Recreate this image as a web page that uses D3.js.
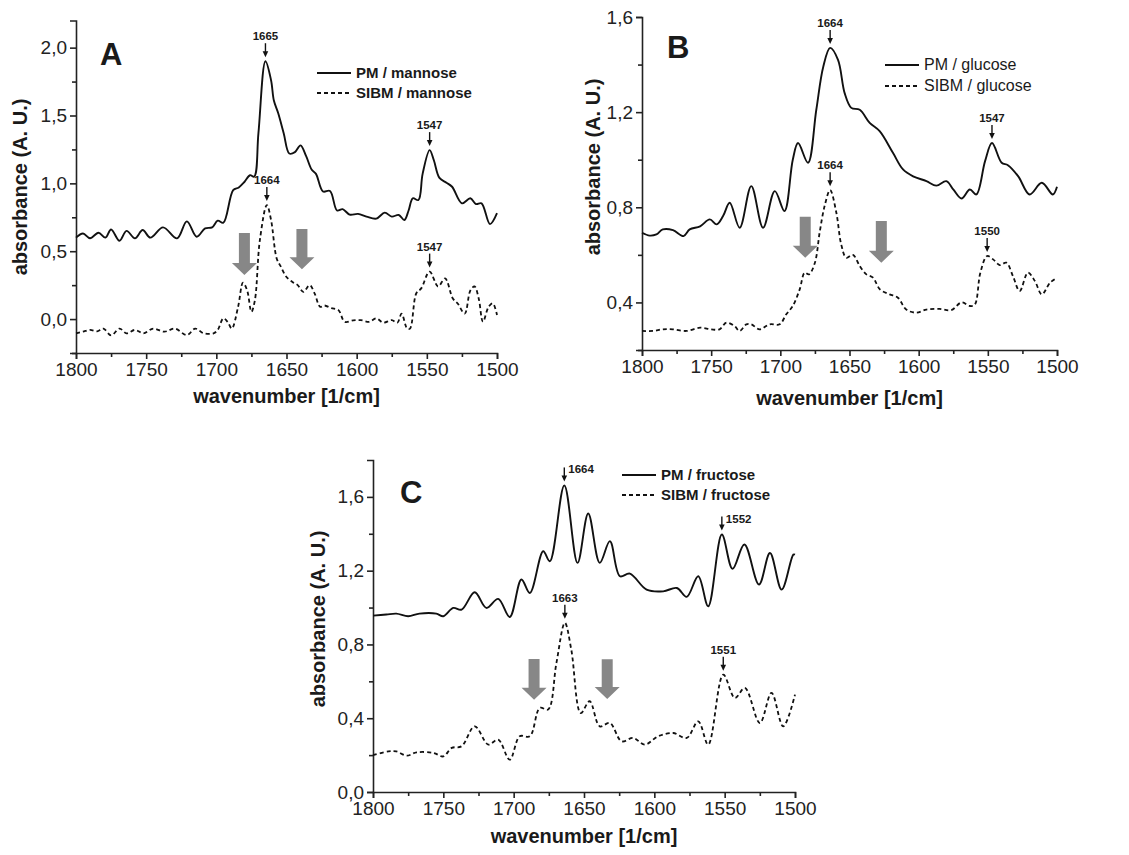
<!DOCTYPE html>
<html lang="en">
<head>
  <meta charset="utf-8">
  <title>FTIR spectra – PM / SIBM</title>
  <script src="https://d3js.org/d3.v7.min.js"></script>
  <style>
    body { margin: 0; background: #fff; }
    svg text { font-family: "Liberation Sans", Arial, sans-serif; fill: #1a1a1a; }
  </style>
</head>
<body>
<svg width="1129" height="855"></svg>
<script>
// ---- data: [wavenumber (1/cm), absorbance (A. U.)] ----
const pmMannose = [
  [1800,0.60],[1795,0.63],[1790,0.595],[1784,0.636],[1779,0.60],[1775,0.66],[1769,0.577],
  [1764,0.65],[1758,0.595],[1752.5,0.656],[1747,0.60],[1738,0.676],[1728,0.595],[1721,0.72],
  [1714,0.607],[1708,0.668],[1703,0.676],[1699,0.725],[1695,0.71],[1688,0.95],[1684,0.97],
  [1680,1.01],[1676,1.06],[1673,1.05],[1670,1.37],[1665,1.90],[1661,1.76],[1659,1.61],
  [1656,1.52],[1652,1.37],[1648,1.22],[1644,1.23],[1640,1.28],[1636,1.20],[1632,1.10],
  [1629,1.07],[1624,0.94],[1619,0.944],[1614,0.80],[1610,0.81],[1605,0.77],[1599,0.775],
  [1593,0.755],[1586,0.74],[1580,0.784],[1575,0.755],[1570,0.767],[1566,0.73],[1563,0.80],
  [1560,0.89],[1556,0.877],[1553,1.07],[1548,1.245],[1545,1.17],[1541,1.04],[1536,1.005],
  [1532,0.975],[1525,0.853],[1519,0.89],[1515,0.848],[1511,0.853],[1505,0.70],[1500,0.78]
];
const sibmMannose = [
  [1800,-0.105],[1795,-0.093],[1790,-0.08],[1785,-0.09],[1780.5,-0.07],[1775,-0.12],
  [1769,-0.07],[1764,-0.105],[1758,-0.08],[1752,-0.105],[1745,-0.07],[1737,-0.093],
  [1729.5,-0.07],[1721,-0.118],[1715,-0.07],[1709,-0.105],[1702,-0.105],[1699,-0.08],
  [1695,0.005],[1692,-0.02],[1689,-0.07],[1684.5,0.09],[1681,0.268],[1678,0.21],[1675,0.054],
  [1672.5,0.14],[1669,0.58],[1664,0.84],[1661,0.73],[1657,0.447],[1654,0.386],[1650,0.31],
  [1645,0.268],[1642,0.25],[1638,0.20],[1633.5,0.25],[1630,0.19],[1626,0.09],[1623,0.10],
  [1618,0.08],[1613,0.066],[1608.5,-0.02],[1602.5,-0.01],[1597,-0.008],[1591,-0.02],
  [1586,0.005],[1581,-0.027],[1575,-0.008],[1571,-0.027],[1568,0.04],[1564,-0.07],
  [1562,-0.07],[1557.5,0.19],[1554,0.226],[1548,0.35],[1542,0.24],[1537,0.30],[1531.5,0.152],
  [1528,0.115],[1523,0.04],[1519,0.21],[1516,0.24],[1513,0.15],[1510,-0.02],[1506,0.09],
  [1503,0.115],[1500,0.03]
];
const pmGlucose = [
  [1800,0.693],[1794.5,0.681],[1789.6,0.686],[1785,0.707],[1777.6,0.704],[1770,0.679],
  [1765.5,0.707],[1758,0.72],[1751,0.749],[1746,0.728],[1741.4,0.763],[1736.6,0.819],
  [1729.4,0.714],[1721,0.889],[1712.5,0.714],[1704,0.868],[1697,0.784],[1691,1.0],
  [1687.2,1.07],[1680,0.987],[1674,1.21],[1669,1.39],[1664,1.47],[1658.3,1.42],[1653.5,1.28],
  [1648.7,1.218],[1642.6,1.21],[1635.4,1.155],[1628.2,1.12],[1618.6,1.029],[1611.3,0.959],
  [1604,0.93],[1594.4,0.91],[1587.2,0.891],[1580,0.91],[1575,0.875],[1569,0.837],[1563,0.875],
  [1558.3,0.854],[1552,0.994],[1547,1.07],[1540,0.987],[1535.5,0.977],[1528,0.93],
  [1519.8,0.854],[1511,0.903],[1503,0.854],[1500,0.886]
];
const sibmGlucose = [
  [1800,0.28],[1792,0.28],[1785,0.287],[1777.6,0.287],[1768,0.28],[1758,0.294],[1750,0.287],
  [1744,0.287],[1739,0.315],[1733,0.30],[1729.4,0.28],[1724.6,0.308],[1721,0.308],
  [1715,0.287],[1707.7,0.308],[1700.5,0.308],[1695.7,0.35],[1691,0.385],[1686,0.455],
  [1682.4,0.525],[1679.3,0.518],[1675,0.567],[1671.6,0.693],[1668,0.805],[1664,0.872],
  [1659.5,0.777],[1656,0.644],[1652.3,0.588],[1647.5,0.60],[1642.6,0.553],[1637.8,0.518],
  [1633,0.504],[1628,0.455],[1621,0.434],[1615,0.42],[1609,0.37],[1601.7,0.357],
  [1594.4,0.37],[1585,0.373],[1576.4,0.368],[1569,0.40],[1563,0.385],[1559.5,0.39],
  [1555.4,0.525],[1550.5,0.595],[1546,0.58],[1541.4,0.557],[1536.6,0.567],[1531.8,0.51],
  [1527,0.448],[1521,0.525],[1516,0.49],[1511,0.434],[1505,0.483],[1500,0.504]
];
const pmFructose = [
  [1800,0.956],[1790.5,0.962],[1783.4,0.967],[1775,0.953],[1767,0.967],[1755,0.967],
  [1750,0.953],[1743,0.998],[1737,0.989],[1727.7,1.083],[1719.4,0.998],[1711,1.047],
  [1702.8,0.949],[1694.5,1.152],[1688.5,1.079],[1679,1.305],[1674.3,1.251],[1664,1.662],
  [1654.6,1.242],[1647,1.51],[1638.8,1.242],[1631.6,1.36],[1624.5,1.17],[1617.4,1.184],
  [1605.5,1.097],[1593.7,1.088],[1584,1.106],[1577,1.058],[1568.8,1.17],[1561.7,1.007],
  [1552,1.396],[1544.4,1.21],[1536,1.342],[1525.6,1.125],[1517.8,1.296],[1509.5,1.097],
  [1501.2,1.287],[1500,1.287]
];
const sibmFructose = [
  [1800,0.20],[1789,0.22],[1783.4,0.22],[1776,0.197],[1769,0.215],[1757,0.212],[1750,0.193],
  [1744,0.239],[1737,0.248],[1727.7,0.356],[1718,0.257],[1711,0.284],[1702.8,0.175],
  [1695.7,0.302],[1688.5,0.302],[1681.4,0.456],[1675.5,0.447],[1669.6,0.70],[1663.6,0.917],
  [1659,0.77],[1652.3,0.428],[1646,0.492],[1638.8,0.356],[1631.6,0.374],[1623.3,0.275],
  [1615,0.293],[1606.8,0.257],[1597.3,0.302],[1586.6,0.32],[1577,0.293],[1568.8,0.383],
  [1561.7,0.257],[1551,0.636],[1542.7,0.51],[1535.6,0.564],[1525,0.374],[1516.7,0.537],
  [1508.4,0.356],[1500,0.528]
];

// axis ticks
const xTicks = [1800, 1750, 1700, 1650, 1600, 1550, 1500];
const xMinorTicks = [1775, 1725, 1675, 1625, 1575, 1525];
const yTicksA = [0, 0.5, 1.0, 1.5, 2.0];
const yMinorA = [-0.25, 0.25, 0.75, 1.25, 1.75];
const yTicksB = [0.4, 0.8, 1.2, 1.6];
const yMinorB = [0.2, 0.6, 1.0, 1.4];
const yTicksC = [0, 0.4, 0.8, 1.2, 1.6];
const yMinorC = [0.2, 0.6, 1.0, 1.4];

// labelled peaks: [label, wavenumber, series index]
const peaksA = [["1665", 1665, 0], ["1547", 1547, 0], ["1664", 1664, 1], ["1547", 1547, 1]];
const peaksB = [["1664", 1664, 0], ["1547", 1547, 0], ["1664", 1664, 1], ["1550", 1550, 1]];
const peaksC = [["1664", 1664, 0], ["1552", 1552, 0], ["1663", 1663, 1], ["1551", 1551, 1]];

// grey arrows: [wavenumber, top absorbance, tip absorbance]
const greyArrowsA = [[1680, 0.634, 0.324], [1639, 0.663, 0.368]];
const greyArrowsB = [[1682, 0.76, 0.588], [1627, 0.742, 0.567]];
const greyArrowsC = [[1685.5, 0.721, 0.50], [1633.5, 0.72, 0.504]];

const panels = [
  {
    letter: "A", letterPos: [100, 65],
    series: [["PM / mannose", pmMannose], ["SIBM / mannose", sibmMannose]],
    yDomain: [-0.25, 2.2], yTicks: yTicksA, yMinor: yMinorA,
    peaks: peaksA, greyArrows: greyArrowsA, peakLabelSide: ["above", "above"],
    box: { left: 76, right: 497, top: 20.5, bottom: 353 },
    yTitle: [20, 187], xTitleY: 403,
    legend: { x: 317, y: 73, gap: 20, weight: "bold", size: 15 }
  },
  {
    letter: "B", letterPos: [667, 58],
    series: [["PM / glucose", pmGlucose], ["SIBM / glucose", sibmGlucose]],
    yDomain: [0.2, 1.6], yTicks: yTicksB, yMinor: yMinorB,
    peaks: peaksB, greyArrows: greyArrowsB, peakLabelSide: ["above", "above"],
    box: { left: 642, right: 1057, top: 17, bottom: 350 },
    yTitle: [593, 167], xTitleY: 405,
    legend: { x: 885, y: 65, gap: 21, weight: "normal", size: 16 }
  },
  {
    letter: "C", letterPos: [400, 503],
    series: [["PM / fructose", pmFructose], ["SIBM / fructose", sibmFructose]],
    yDomain: [0, 1.8], yTicks: yTicksC, yMinor: yMinorC,
    peaks: peaksC, greyArrows: greyArrowsC, peakLabelSide: ["right", "above"],
    box: { left: 373, right: 795, top: 460, bottom: 792 },
    yTitle: [318, 619], xTitleY: 843,
    legend: { x: 622, y: 475, gap: 20, weight: "bold", size: 15 }
  }
];

const svg = d3.select("svg");
const dashes = [null, "4,3"];
const decimalComma = v => d3.format(".1f")(v).replace(".", ",");

panels.forEach(p => {
  const b = p.box;
  const x = d3.scaleLinear().domain([1800, 1500]).range([b.left, b.right]);
  const y = d3.scaleLinear().domain(p.yDomain).range([b.bottom, b.top]);
  const g = svg.append("g");

  // x axis
  const xAxis = g.append("g").attr("transform", `translate(0,${b.bottom})`)
    .call(d3.axisBottom(x).tickValues(xTicks).tickFormat(d3.format("d")).tickSizeOuter(0).tickSize(6).tickPadding(4));
  g.append("g").attr("transform", `translate(0,${b.bottom})`)
    .call(d3.axisBottom(x).tickValues(xMinorTicks).tickFormat("").tickSizeOuter(0).tickSize(4))
    .select(".domain").remove();
  xAxis.selectAll("text").attr("font-size", 19).style("fill", "#222");

  // y axis
  const yAxis = g.append("g").attr("transform", `translate(${b.left},0)`)
    .call(d3.axisLeft(y).tickValues(p.yTicks).tickFormat(decimalComma).tickSizeOuter(0).tickSize(6).tickPadding(3));
  g.append("g").attr("transform", `translate(${b.left},0)`)
    .call(d3.axisLeft(y).tickValues(p.yMinor).tickFormat("").tickSizeOuter(0).tickSize(4))
    .select(".domain").remove();
  yAxis.selectAll("text").attr("font-size", 19).style("fill", "#222");
  g.selectAll(".domain, .tick line").attr("stroke", "#222").attr("stroke-width", 1.6);

  // axis titles
  g.append("text").attr("x", (b.left + b.right) / 2).attr("y", p.xTitleY)
    .attr("text-anchor", "middle").attr("font-size", 20).attr("font-weight", "bold")
    .text("wavenumber [1/cm]");
  g.append("text")
    .attr("transform", `translate(${p.yTitle[0] + 7},${p.yTitle[1]}) rotate(-90)`)
    .attr("text-anchor", "middle").attr("font-size", 20).attr("font-weight", "bold")
    .text("absorbance (A. U.)");

  // panel letter
  g.append("text").attr("x", p.letterPos[0]).attr("y", p.letterPos[1])
    .attr("font-size", 31).attr("font-weight", "bold").text(p.letter);

  // spectra
  const line = d3.line().x(d => x(d[0])).y(d => y(d[1])).curve(d3.curveCatmullRom.alpha(0.5));
  p.series.forEach((s, i) => {
    g.append("path").datum(s[1])
      .attr("fill", "none").attr("stroke", "#111")
      .attr("stroke-width", i === 0 ? 1.9 : 1.8)
      .attr("stroke-dasharray", dashes[i])
      .attr("stroke-linejoin", "round")
      .attr("d", line);
  });

  // legend
  const lg = p.legend;
  p.series.forEach((s, i) => {
    const yy = lg.y + i * lg.gap;
    g.append("line").attr("x1", lg.x).attr("x2", lg.x + 34).attr("y1", yy).attr("y2", yy)
      .attr("stroke", "#111").attr("stroke-width", 1.9).attr("stroke-dasharray", dashes[i]);
    g.append("text").attr("x", lg.x + 39).attr("y", yy + 5)
      .attr("font-size", lg.size).attr("font-weight", lg.weight).text(s[0]);
  });

  // grey arrows
  p.greyArrows.forEach(a => {
    const cx = x(a[0]), top = y(a[1]), tip = y(a[2]);
    const bw = 5.5, hw = 12.5, hl = 12;
    const pts = [[cx - bw, top], [cx + bw, top], [cx + bw, tip - hl], [cx + hw, tip - hl],
                 [cx, tip], [cx - hw, tip - hl], [cx - bw, tip - hl]];
    g.append("path").attr("d", d3.line()(pts) + "Z").attr("fill", "#878787");
  });

  // peak markers
  p.peaks.forEach(pk => {
    const data = p.series[pk[2]][1];
    const pt = d3.least(data, d => Math.abs(d[0] - pk[1]));
    const px = x(pt[0]), tipY = y(pt[1]) - 4, topY = tipY - 14;
    g.append("line").attr("x1", px).attr("x2", px).attr("y1", topY).attr("y2", tipY - 5)
      .attr("stroke", "#111").attr("stroke-width", 1.4);
    g.append("path").attr("d", d3.line()([[px - 2.8, tipY - 6], [px + 2.8, tipY - 6], [px, tipY]]) + "Z")
      .attr("fill", "#111");
    const side = p.peakLabelSide[pk[2]];
    g.append("text")
      .attr("x", side === "right" ? px + 4 : px)
      .attr("y", side === "right" ? topY + 6 : topY - 3)
      .attr("text-anchor", side === "right" ? "start" : "middle")
      .attr("font-size", 11.5).attr("font-weight", "bold").text(pk[0]);
  });
});
</script>
</body>
</html>
